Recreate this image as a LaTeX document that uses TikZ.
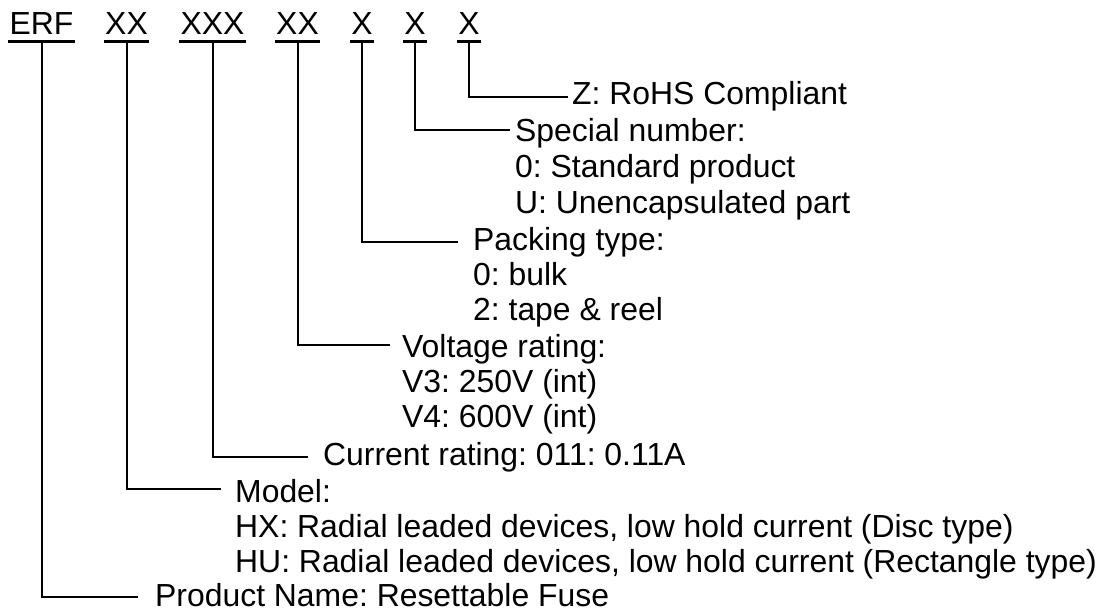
\documentclass[tikz,border=0pt]{standalone}
\usepackage{fontspec}
\setmainfont{Liberation Sans}
\frenchspacing
\begin{document}
\begin{tikzpicture}[x=1pt,y=-1pt,
  txt/.style={anchor=base west,inner sep=0pt,font=\fontsize{31.9}{35}\selectfont},
  code/.style={anchor=base,inner xsep=1pt,inner ysep=0pt,font=\fontsize{31.9}{35}\selectfont},
  ul/.style={line width=3pt},
  conn/.style={line width=2pt}]
\useasboundingbox (0,0) rectangle (1101,610);
% codes
\node[code] (c1) at (41.5,35) {ERF};
\node[code] (c2) at (126.5,35) {XX};
\node[code] (c3) at (212.5,35) {XXX};
\node[code] (c4) at (297.5,35) {XX};
\node[code] (c5) at (362,35) {X};
\node[code] (c6) at (415,35) {X};
\node[code] (c7) at (469,35) {X};
\foreach \c in {c1,c2,c3,c4,c5,c6,c7}{
  \draw[ul] ([yshift=-6.5pt]\c.base west) -- ([yshift=-6.5pt]\c.base east);
}
% descriptions
\node[txt] (d7) at (572,105) {Z: RoHS Compliant};
\node[txt] (d6) at (515,141) {Special number:};
\node[txt] (d6b) at (515,177) {0: Standard product};
\node[txt] (d6c) at (515,213) {U: Unencapsulated part};
\node[txt] (d5) at (473,250) {Packing type:};
\node[txt] (d5b) at (473,285) {0: bulk};
\node[txt] (d5c) at (473,320) {2: tape \& reel};
\node[txt] (d4) at (402,357) {Voltage rating:};
\node[txt] (d4b) at (402,392) {V3: 250V (int)};
\node[txt] (d4c) at (402,427) {V4: 600V (int)};
\node[txt] (d3) at (323,465) {Current rating: 011: 0.11A};
\node[txt] (d2) at (235,502) {Model:};
\node[txt] (d2b) at (235,537) {HX: Radial leaded devices, low hold current (Disc type)};
\node[txt] (d2c) at (235,572) {HU: Radial leaded devices, low hold current (Rectangle type)};
\node[txt] (d1) at (155,606) {Product Name: Resettable Fuse};
% connector ends
\coordinate (e7) at (568,96.7);
\coordinate (e6) at (510,130);
\coordinate (e5) at (458,241.7);
\coordinate (e4) at (390,345);
\coordinate (e3) at (308,456.7);
\coordinate (e2) at (221,489.3);
\coordinate (e1) at (138,597.3);
% connectors
\draw[conn] ([yshift=-6.5pt]c7.base) |- (e7);
\draw[conn] ([yshift=-6.5pt]c6.base) |- (e6);
\draw[conn] ([yshift=-6.5pt]c5.base) |- (e5);
\draw[conn] ([yshift=-6.5pt]c4.base) |- (e4);
\draw[conn] ([yshift=-6.5pt]c3.base) |- (e3);
\draw[conn] ([yshift=-6.5pt]c2.base) |- (e2);
\draw[conn] ([yshift=-6.5pt]c1.base) |- (e1);
\end{tikzpicture}
\end{document}
